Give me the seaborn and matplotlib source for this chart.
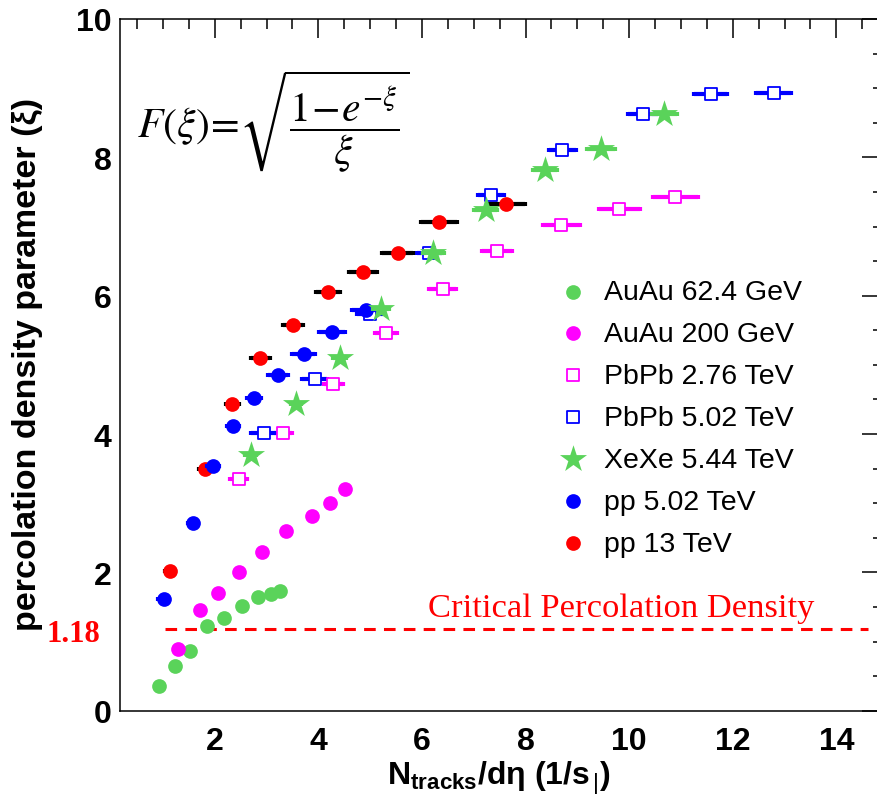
import numpy as np
import pandas as pd
import matplotlib
matplotlib.use("Agg")
import matplotlib.pyplot as plt
import seaborn as sns
from matplotlib.ticker import MultipleLocator

# ---------------- data ----------------
auau62_x = [0.93, 1.23, 1.52, 1.85, 2.17, 2.52, 2.83, 3.08, 3.25]
auau62_y = [0.35, 0.65, 0.87, 1.23, 1.34, 1.52, 1.65, 1.69, 1.73]

auau200_x = [1.29, 1.71, 2.06, 2.46, 2.92, 3.37, 3.87, 4.22, 4.52]
auau200_y = [0.89, 1.45, 1.70, 2.00, 2.30, 2.60, 2.81, 3.00, 3.20]

pbpb276_x = [2.46, 3.32, 4.29, 5.31, 6.40, 7.45, 8.69, 9.81, 10.89]
pbpb276_y = [3.35, 4.01, 4.72, 5.46, 6.10, 6.65, 7.02, 7.26, 7.42]
pbpb276_e = [0.16, 0.17, 0.19, 0.21, 0.26, 0.29, 0.36, 0.40, 0.43]

pbpb502_x = [2.95, 3.93, 4.99, 6.14, 7.33, 8.71, 10.27, 11.57, 12.79]
pbpb502_y = [4.01, 4.80, 5.73, 6.62, 7.46, 8.10, 8.63, 8.91, 8.93]
pbpb502_e = [0.25, 0.24, 0.25, 0.24, 0.25, 0.26, 0.29, 0.31, 0.34]

xexe_x = [2.69, 3.57, 4.41, 5.21, 6.22, 7.23, 8.38, 9.45, 10.68]
xexe_y = [3.70, 4.43, 5.10, 5.81, 6.62, 7.24, 7.81, 8.12, 8.63]
xexe_e = [0.10, 0.10, 0.12, 0.15, 0.20, 0.22, 0.23, 0.27, 0.24]

pp502_x = [1.01, 1.58, 1.97, 2.35, 2.76, 3.22, 3.72, 4.26, 4.91]
pp502_y = [1.62, 2.72, 3.54, 4.11, 4.52, 4.85, 5.16, 5.48, 5.80]
pp502_e = [0.10, 0.10, 0.12, 0.12, 0.13, 0.19, 0.22, 0.25, 0.27]

pp13_x = [1.13, 1.81, 2.34, 2.88, 3.51, 4.19, 4.86, 5.53, 6.33, 7.62]
pp13_y = [2.02, 3.50, 4.43, 5.10, 5.58, 6.06, 6.34, 6.62, 7.07, 7.33]
pp13_e = [0.10, 0.12, 0.12, 0.19, 0.20, 0.23, 0.27, 0.30, 0.34, 0.37]

labels = ["AuAu 62.4 GeV", "AuAu 200 GeV", "PbPb 2.76 TeV", "PbPb 5.02 TeV",
          "XeXe 5.44 TeV", "pp 5.02 TeV", "pp 13 TeV"]

xticks = [2, 4, 6, 8, 10, 12, 14]
yticks = [0, 2, 4, 6, 8, 10]
critical_density = 1.18

GREEN = "#5ad35a"
MAGENTA = "#ff00ff"
BLUE = "#0000ff"
RED = "#ff0000"

# ---------------- style ----------------
sns.set_theme(style="white")
plt.rcParams['font.family'] = ['Liberation Sans', 'DejaVu Sans']
plt.rcParams['mathtext.fontset'] = 'custom'
plt.rcParams['mathtext.rm'] = 'Liberation Sans'
plt.rcParams['mathtext.bf'] = 'Liberation Sans:bold'
plt.rcParams['mathtext.it'] = 'Liberation Sans:italic'

fig = plt.figure(figsize=(8.78, 8.03), dpi=100)
ax = fig.add_axes([120 / 878, 1 - 711.7 / 803, 763 / 878, 691.7 / 803])

# error bars
def xerr(xs, ys, es, color, z):
    ax.errorbar(xs, ys, xerr=es, fmt='none', ecolor=color, elinewidth=3,
                capsize=1.6, capthick=3, zorder=z)

xerr(pbpb276_x, pbpb276_y, pbpb276_e, MAGENTA, 2)
xerr(pbpb502_x, pbpb502_y, pbpb502_e, BLUE, 2)
xerr(pp13_x, pp13_y, pp13_e, "black", 4)
xerr(pp502_x, pp502_y, pp502_e, BLUE, 5)
xerr(xexe_x, xexe_y, xexe_e, GREEN, 6)

circ_s = 112
sns.scatterplot(x=auau62_x, y=auau62_y, ax=ax, marker='o', s=circ_s, color=GREEN,
                edgecolor=GREEN, linewidth=0, label=labels[0], zorder=3)
sns.scatterplot(x=auau200_x, y=auau200_y, ax=ax, marker='o', s=circ_s, color=MAGENTA,
                edgecolor=MAGENTA, linewidth=0, label=labels[1], zorder=3)
sns.scatterplot(x=pbpb276_x, y=pbpb276_y, ax=ax, marker='s', s=80, facecolor='white',
                edgecolor=MAGENTA, linewidth=1.3, label=labels[2], zorder=3)
sns.scatterplot(x=pbpb502_x, y=pbpb502_y, ax=ax, marker='s', s=80, facecolor='white',
                edgecolor=BLUE, linewidth=1.3, label=labels[3], zorder=3)
sns.scatterplot(x=pp13_x, y=pp13_y, ax=ax, marker='o', s=circ_s, color=RED,
                edgecolor=RED, linewidth=0, label=labels[6], zorder=4.5)
sns.scatterplot(x=pp502_x, y=pp502_y, ax=ax, marker='o', s=circ_s, color=BLUE,
                edgecolor=BLUE, linewidth=0, label=labels[5], zorder=5.5)
sns.scatterplot(x=xexe_x, y=xexe_y, ax=ax, marker='*', s=420, color=GREEN,
                edgecolor=GREEN, linewidth=0, label=labels[4], zorder=6.5)

# critical line
ax.hlines(critical_density, 1.03, 14.62, colors=RED, linestyles=(0, (3.8, 2.7)),
          linewidth=2.2, zorder=1)
ax.text(6.12, 1.37, "Critical Percolation Density", color=RED, fontsize=24.8,
        family=['Liberation Serif', 'DejaVu Serif'], va='baseline', ha='left')
fig.text(100 / 878, 1 - 641.7 / 803, "1.18", color=RED, fontsize=22, fontweight='bold',
         family=['Liberation Serif', 'DejaVu Serif'], ha='right', va='baseline')

# formula
fig.text(273 / 878, 1 - 122 / 803,
         r'$F(\xi)\!=\!\sqrt{\dfrac{1\!-\!e^{-\xi}}{\xi}}$',
         math_fontfamily='stix', fontsize=30, ha='center', va='center', color='black')

# axes
ax.set_xlim(0.17, 14.9)
ax.set_ylim(0, 10)
ax.set_xticks(xticks, [str(t) for t in xticks], fontsize=23, fontweight='bold')
ax.set_yticks(yticks, [str(t) for t in yticks], fontsize=23, fontweight='bold')
ax.xaxis.set_minor_locator(MultipleLocator(0.5))
ax.yaxis.set_minor_locator(MultipleLocator(0.5))
ax.tick_params(which='both', direction='in', top=True, right=True, width=1.1,
               color='black', labelcolor='black')
ax.tick_params(axis='x', which='major', length=14, pad=11)
ax.tick_params(axis='y', which='major', length=15, pad=6)
ax.tick_params(which='minor', length=7)
for sp in ax.spines.values():
    sp.set_color('black')
    sp.set_linewidth(1.1)
    sp.set_visible(True)

ax.set_ylabel("percolation density parameter (ξ)", fontsize=24.5, fontweight='bold',
              color='black')
ax.yaxis.label.set_va('center')
ax.yaxis.set_label_coords(-0.1206, 0.5027)
ax.set_xlabel(r"N$_{\mathbf{tracks}}$/dη (1/s$_{\,|}$)", fontsize=23, fontweight='bold',
              color='black')
ax.xaxis.label.set_va('top')
ax.xaxis.set_label_coords(0.497, -0.070)

# legend
handles, labs = ax.get_legend_handles_labels()
hmap = dict(zip(labs, handles))
leg = ax.legend([hmap[l] for l in labels], labels, loc='upper left',
                bbox_to_anchor=(561.6 / 878, 1 - 280.0 / 803),
                bbox_transform=fig.transFigure, frameon=False, fontsize=20.5,
                borderpad=0, borderaxespad=0, handlelength=0.8, handletextpad=0.69,
                labelspacing=0.56)
for t in leg.get_texts():
    t.set_color('black')

fig.savefig("out.png", dpi=100)
